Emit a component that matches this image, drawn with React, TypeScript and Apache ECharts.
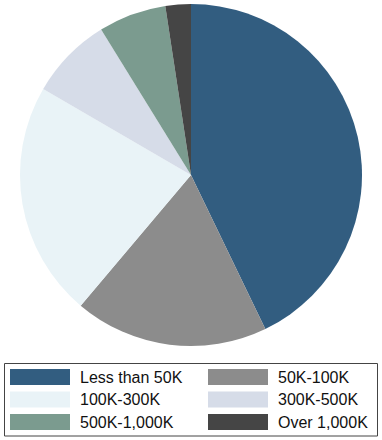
import React, { useEffect, useRef } from "react";
import * as echarts from "echarts";

const categories = ["Less than 50K", "50K-100K", "100K-300K", "300K-500K", "500K-1,000K", "Over 1,000K"];
const values = [42.8, 18.3, 22.2, 7.8, 6.4, 2.4];
const colors = ["#325d80", "#8c8c8c", "#e9f3f7", "#d6dce8", "#7b9b8f", "#454545"];
const legendCol1 = ["Less than 50K", "100K-300K", "500K-1,000K"];
const legendCol2 = ["50K-100K", "300K-500K", "Over 1,000K"];

export default function App() {
  const ref = useRef<HTMLDivElement>(null);
  useEffect(() => {
    document.body.style.margin = "0";
    const chart = echarts.init(ref.current!, null, { renderer: "svg" });
    const legendBase = {
      orient: "vertical" as const,
      top: 369,
      padding: 0,
      itemWidth: 60,
      itemHeight: 16,
      itemGap: 6.5,
      icon: "rect",
      selectedMode: false,
      textStyle: {
        fontFamily: "Liberation Sans, Arial, sans-serif",
        fontSize: 16,
        color: "#111",
        lineHeight: 16,
        padding: [0, 0, 0, 5],
      },
    };
    chart.setOption({
      animation: false,
      color: colors,
      legend: [
        { ...legendBase, left: 10, data: legendCol1 },
        { ...legendBase, left: 208, data: legendCol2 },
      ],
      graphic: [
        {
          type: "rect",
          shape: { x: 4.5, y: 363.5, width: 373, height: 72.5 },
          style: { fill: "none", stroke: "#444", lineWidth: 1 },
          silent: true,
        },
      ],
      series: [
        {
          type: "pie",
          center: [191, 175],
          radius: 171,
          startAngle: 90,
          clockwise: true,
          label: { show: false },
          labelLine: { show: false },
          itemStyle: { borderWidth: 0 },
          emphasis: { disabled: true },
          data: categories.map((c, i) => ({ name: c, value: values[i] })),
        },
      ],
    });
    return () => chart.dispose();
  }, []);
  return <div ref={ref} style={{ width: 382, height: 440, position: "absolute", left: 0, top: 0 }} />;
}
